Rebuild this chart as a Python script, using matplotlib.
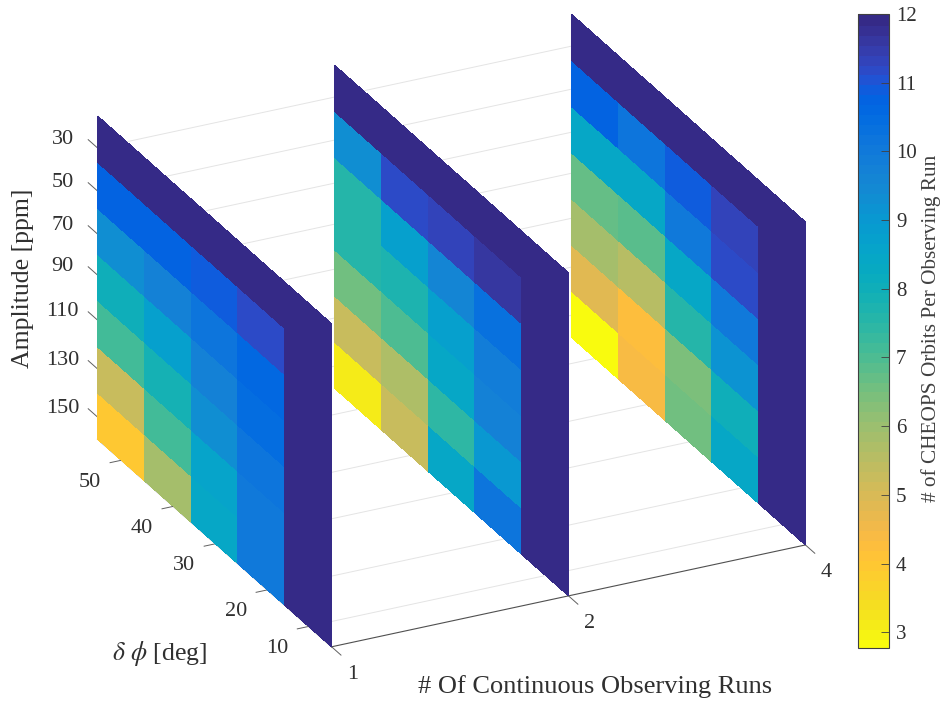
import numpy as np
import matplotlib
matplotlib.use("Agg")
import matplotlib.pyplot as plt
from matplotlib.colors import ListedColormap, Normalize
from matplotlib.cm import ScalarMappable
from matplotlib.transforms import Affine2D
from mpl_toolkits.mplot3d import proj3d

plt.rcParams['font.family'] = ['Liberation Serif', 'DejaVu Serif']
plt.rcParams['mathtext.fontset'] = 'stix'

PARULA = [[0.2081,0.1663,0.5292],[0.2116,0.1898,0.5777],[0.2123,0.2138,0.6270],[0.2081,0.2386,0.6771],
[0.1959,0.2645,0.7279],[0.1707,0.2919,0.7792],[0.1253,0.3242,0.8303],[0.0591,0.3598,0.8683],
[0.0117,0.3875,0.8820],[0.0060,0.4086,0.8828],[0.0165,0.4266,0.8786],[0.0329,0.4430,0.8720],
[0.0498,0.4586,0.8641],[0.0629,0.4737,0.8554],[0.0723,0.4887,0.8467],[0.0779,0.5040,0.8384],
[0.0793,0.5200,0.8312],[0.0749,0.5375,0.8263],[0.0641,0.5570,0.8240],[0.0488,0.5772,0.8228],
[0.0343,0.5966,0.8199],[0.0265,0.6137,0.8135],[0.0239,0.6287,0.8038],[0.0231,0.6418,0.7913],
[0.0228,0.6535,0.7768],[0.0267,0.6642,0.7607],[0.0384,0.6743,0.7436],[0.0590,0.6838,0.7254],
[0.0843,0.6928,0.7062],[0.1133,0.7015,0.6859],[0.1453,0.7098,0.6646],[0.1801,0.7177,0.6424],
[0.2178,0.7250,0.6193],[0.2586,0.7317,0.5954],[0.3022,0.7376,0.5712],[0.3482,0.7424,0.5473],
[0.3953,0.7459,0.5244],[0.4420,0.7481,0.5033],[0.4871,0.7491,0.4840],[0.5300,0.7491,0.4661],
[0.5709,0.7485,0.4494],[0.6099,0.7473,0.4337],[0.6473,0.7456,0.4188],[0.6834,0.7435,0.4044],
[0.7184,0.7411,0.3905],[0.7525,0.7384,0.3768],[0.7858,0.7356,0.3633],[0.8185,0.7327,0.3498],
[0.8507,0.7299,0.3360],[0.8824,0.7274,0.3217],[0.9139,0.7258,0.3063],[0.9450,0.7261,0.2886],
[0.9739,0.7314,0.2666],[0.9938,0.7455,0.2403],[0.9990,0.7653,0.2164],[0.9955,0.7861,0.1967],
[0.9880,0.8066,0.1794],[0.9789,0.8271,0.1633],[0.9697,0.8481,0.1475],[0.9626,0.8705,0.1309],
[0.9589,0.8949,0.1132],[0.9598,0.9218,0.0948],[0.9661,0.9514,0.0755],[0.9763,0.9831,0.0538]]
cmap = ListedColormap(PARULA[::-1])
norm = Normalize(2.77, 12)

run_labels = ['1', '2', '4']
amp_labels = ['30', '50', '70', '90', '110', '130', '150']
phi_labels = ['50', '40', '30', '20', '10']
# rows: amplitude 30..150, columns: delta phi 50..10
orbits_run1 = np.array([
    [12, 12, 12, 12, 12],
    [10.8, 10.75, 10.95, 11.2, 12],
    [9.3, 9.8, 10.15, 10.65, 12],
    [8.0, 8.7, 9.75, 10.45, 12],
    [7.2, 7.9, 9.3, 10.2, 12],
    [5.25, 7.2, 8.55, 10.1, 12],
    [4.0, 5.9, 8.45, 10.05, 12]])
orbits_run2 = np.array([
    [12, 12, 12, 12, 12],
    [9.4, 11.2, 11.35, 11.6, 12],
    [7.6, 8.7, 9.6, 10.3, 12],
    [7.6, 7.8, 8.75, 9.9, 12],
    [6.6, 7.0, 8.5, 9.8, 12],
    [5.3, 5.7, 7.45, 9.05, 12],
    [3.2, 5.35, 8.45, 10.2, 12]])
orbits_run3 = np.array([
    [12, 12, 12, 12, 12],
    [10.75, 10.2, 10.9, 11.4, 12],
    [8.5, 8.5, 10.05, 11.2, 12],
    [6.7, 6.9, 8.5, 10.05, 12],
    [5.9, 5.65, 7.6, 9.25, 12],
    [4.8, 4.3, 6.5, 8.0, 12],
    [2.77, 4.45, 6.65, 8.5, 12]])
slices = [orbits_run1, orbits_run2, orbits_run3]
cbar_ticks = [3, 4, 5, 6, 7, 8, 9, 10, 11, 12]

W, H = 947, 704
fig = plt.figure(figsize=(W / 100, H / 100), dpi=100)
ax = fig.add_axes([0.1, 0.1, 0.6, 0.6 * W / H], projection='3d')
ax.set_proj_type('ortho')
ax.view_init(elev=25.9, azim=-116.2)

Y_LO, Y_HI, Z_TOP, Z_BOT = 5, 55, 16, 161.6
ax.set_xlim(1, 3, view_margin=0)
ax.set_ylim(Y_LO, Y_HI, view_margin=0)
ax.set_zlim(Z_BOT, Z_TOP, view_margin=0)
ax.set_box_aspect((528, 530, 359))

phi_edges = np.linspace(Y_HI, Y_LO, 6)
amp_edges = np.linspace(Z_TOP, Z_BOT, 8)
PP, AA = np.meshgrid(phi_edges, amp_edges)
for k, vals in enumerate(slices):
    ax.plot_surface(np.full_like(PP, k + 1.0), PP, AA, rstride=1, cstride=1,
                    facecolors=cmap(norm(vals)), shade=False, linewidth=0,
                    antialiased=False, edgecolor='none')

ax.set_xticks([1, 2, 3], run_labels)
ax.set_yticks([49.9, 38.8, 29.8, 18.7, 9.9], phi_labels)
ax.set_zticks([30.4, 49.8, 69.2, 87.7, 108, 130, 151.7], amp_labels)
ink = '#303030'
for axis, pad, inw, out in ((ax.xaxis, -1.5, 0.5, 0.0), (ax.yaxis, 3, 0.3, 0.0),
                            (ax.zaxis, 3, 0.0, 0.5)):
    axis.set_pane_color((1, 1, 1, 0))
    axis.pane.set_edgecolor((1, 1, 1, 0))
    axis.line.set_color('#505050')
    axis.line.set_linewidth(0.8)
    axis._axinfo['grid'].update(color='#e4e4e4', linewidth=0.7)
    axis._axinfo['tick'].update(inward_factor=inw, outward_factor=out,
                                linewidth={True: 0.7, False: 0.7})
    axis.set_tick_params(labelsize=16, pad=pad, labelcolor=ink, color='#606060')
ax.zaxis.set_ticks_position('upper')
ax.zaxis._get_tickdir = lambda position: 1
for t in ax.xaxis.get_major_ticks():
    t.label1.set_ha('left')
    t.label1.set_va('top')
for t in ax.yaxis.get_major_ticks():
    t.label1.set_ha('right')
    t.label1.set_va('bottom')
ax.patch.set_visible(False)


def nudge_labels(axis, dx, dy):
    """Offset tick labels by (dx, dy) pixels, y pointing down."""
    tr = ax.transData + Affine2D().translate(dx, -dy)
    for t in axis.get_major_ticks():
        t.label1.get_transform = lambda tr=tr: tr


nudge_labels(ax.xaxis, 10, 7)
nudge_labels(ax.yaxis, -3, 16)
nudge_labels(ax.zaxis, -9, -14)


def to_px(x, y, z):
    u, v, _ = proj3d.proj_transform(x, y, z, ax.get_proj())
    px, py = ax.transData.transform((u, v))
    return np.array([px, H - py])


# place the axes box so that its corners land where the reference has them
tA, tC = np.array([97.0, 117.0]), np.array([806.0, 544.0])
for _ in range(3):
    fig.canvas.draw()
    pA, pC = to_px(1, Y_HI, Z_TOP), to_px(3, Y_LO, Z_BOT)
    s = np.linalg.norm(tC - tA) / np.linalg.norm(pC - pA)
    b = ax.get_position(original=True)
    side = b.width * W * s
    cx, cy = (b.x0 + b.width / 2) * W, (1 - b.y0 - b.height / 2) * H
    mid_p, mid_t = (pA + pC) / 2, (tA + tC) / 2
    ncx = mid_t[0] + (cx - mid_p[0]) * s
    ncy = mid_t[1] + (cy - mid_p[1]) * s
    ax.set_position([(ncx - side / 2) / W, 1 - (ncy + side / 2) / H, side / W, side / H])

fig.text(595 / W, 1 - 687 / H, '# Of Continuous Observing Runs', ha='center', va='center',
         fontsize=19, color=ink)
fig.text(160 / W, 1 - 653 / H, r'$\delta\ \phi$ [deg]', ha='center', va='center',
         fontsize=18.5, color=ink)
fig.text(23 / W, 1 - 278 / H, 'Amplitude [ppm]', ha='center', va='center', rotation=90,
         fontsize=18.5, color=ink)

cax = fig.add_axes([858 / W, 1 - 648 / H, 31 / W, 634 / H])
cb = fig.colorbar(ScalarMappable(norm=norm, cmap=cmap), cax=cax, ticks=cbar_ticks)
cb.ax.tick_params(direction='in', length=6, width=0.6, color='#404040', labelcolor=ink,
                  labelsize=15, pad=5)
cb.outline.set_linewidth(0.8)
cb.outline.set_edgecolor('#404040')
cb.solids.set_edgecolor('face')
fig.text(931 / W, 1 - 328 / H, '# of CHEOPS Orbits Per Observing Run', rotation=90,
         ha='center', va='center', fontsize=15.3, color='#404040')

fig.savefig('out.png', dpi=100)
